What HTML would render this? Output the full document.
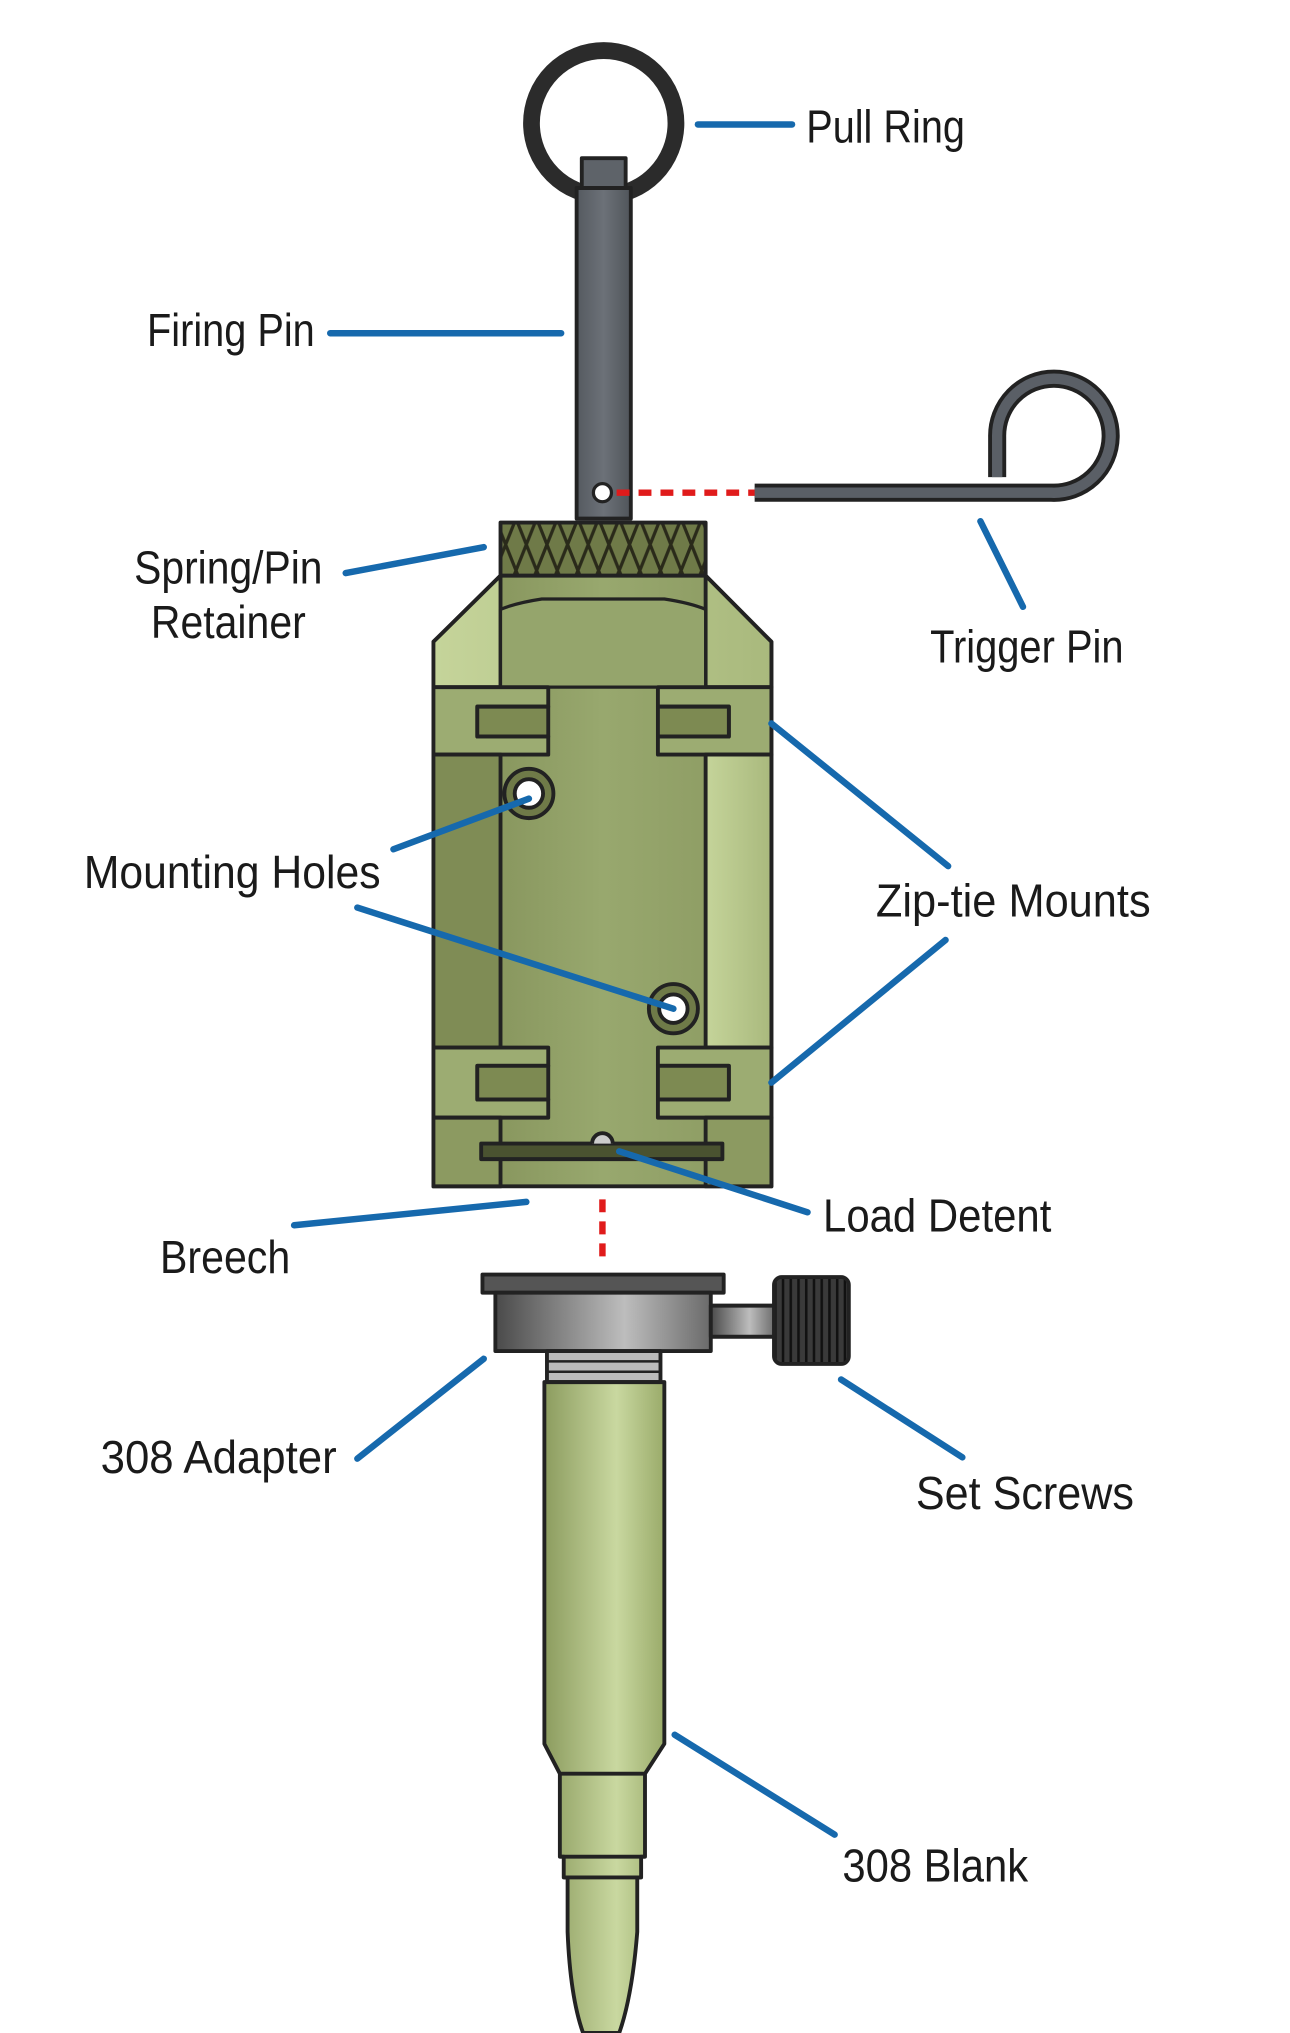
<!DOCTYPE html>
<html><head><meta charset="utf-8"><style>
html,body{margin:0;padding:0;background:#fff;}
svg{display:block;}
text{font-family:"Liberation Sans Narrow","Liberation Sans",sans-serif;font-size:36px;fill:#1a1a1a;}
</style></head><body>
<svg width="1290" height="2033" viewBox="0 0 1000 1568" preserveAspectRatio="none" xmlns="http://www.w3.org/2000/svg">
<defs>
<linearGradient id="grn" x1="0" x2="1"><stop offset="0" stop-color="#7f8c55"/><stop offset="0.5" stop-color="#98a86e"/><stop offset="1" stop-color="#8a9860"/></linearGradient>
<linearGradient id="lg" x1="0" x2="1"><stop offset="0" stop-color="#c5d49a"/><stop offset="1" stop-color="#a9b97d"/></linearGradient>
<linearGradient id="blank" x1="0" x2="1"><stop offset="0" stop-color="#8c9c5f"/><stop offset="0.6" stop-color="#c9d8a0"/><stop offset="1" stop-color="#9aab6a"/></linearGradient>
<linearGradient id="gray" x1="0" x2="1"><stop offset="0" stop-color="#4a4a4a"/><stop offset="0.6" stop-color="#bdbdbd"/><stop offset="1" stop-color="#6a6a6a"/></linearGradient>
<linearGradient id="pin" x1="0" x2="1"><stop offset="0" stop-color="#555a60"/><stop offset="0.5" stop-color="#6c7178"/><stop offset="1" stop-color="#50555a"/></linearGradient>
<pattern id="knurl" width="16" height="40" patternUnits="userSpaceOnUse"><rect width="16" height="40" fill="#6f7a48"/><path d="M0 0L16 40M16 0L0 40" stroke="#2a2a1a" stroke-width="2.5"/></pattern>
<pattern id="knurl2" width="6" height="10" patternUnits="userSpaceOnUse"><rect width="6" height="10" fill="#3a3a3a"/><rect width="2" height="10" fill="#111"/></pattern>
</defs>
<g stroke="#222" stroke-width="3" stroke-linejoin="round">
<circle cx="468" cy="95" r="56" fill="none" stroke="#2b2b2b" stroke-width="13"/>
<rect x="451" y="122" width="34" height="25" fill="#5e6369"/>
<rect x="447" y="145" width="42" height="255" fill="url(#pin)"/>
<circle cx="467" cy="380" r="7" fill="#fff" stroke-width="2.5"/>
<path d="M585 380 L815 380 A44 44 0 1 0 773 337 L773 368" fill="none" stroke="#222" stroke-width="14"/>
<path d="M585 380 L815 380 A44 44 0 1 0 773 337 L773 368" fill="none" stroke="#5a5f66" stroke-width="8" stroke-linejoin="round"/>
<rect x="388" y="403" width="159" height="41" fill="url(#knurl)"/>
<path d="M388 444 L547 444 L598 495 L598 915 L336 915 L336 495 Z" fill="url(#grn)"/>
<path d="M388 444 L336 495 L336 530 L388 530 Z M547 444 L598 495 L598 530 L547 530 Z" fill="url(#lg)"/>
<path d="M388 530 L388 470 Q400 465 420 462 L515 462 Q535 465 547 470 L547 530 Z" fill="#95a56c" stroke-width="2.5"/>
<path d="M336 530 L425 530 L425 545 L370 545 L370 568 L425 568 L425 582 L336 582 Z" fill="#9cac72"/>
<path d="M598 530 L510 530 L510 545 L565 545 L565 568 L510 568 L510 582 L598 582 Z" fill="#9cac72"/>
<path d="M370 545 L425 545 L425 568 L370 568 Z" fill="#7d8a52"/>
<path d="M510 545 L565 545 L565 568 L510 568 Z" fill="#7d8a52"/>
<path d="M336 582 L388 582 L388 808 L336 808 Z" fill="#7f8c55"/>
<path d="M547 582 L598 582 L598 808 L547 808 Z" fill="url(#lg)"/>
<path d="M336 808 L425 808 L425 822 L370 822 L370 848 L425 848 L425 862 L336 862 Z" fill="#9cac72"/>
<path d="M598 808 L510 808 L510 822 L565 822 L565 848 L510 848 L510 862 L598 862 Z" fill="#9cac72"/>
<path d="M370 822 L425 822 L425 848 L370 848 Z" fill="#7d8a52"/>
<path d="M510 822 L565 822 L565 848 L510 848 Z" fill="#7d8a52"/>
<path d="M336 862 L388 862 L388 915 L336 915 Z M547 862 L598 862 L598 915 L547 915Z" fill="#8c9a61"/>
<circle cx="410" cy="612" r="19" fill="#6f7a48"/><circle cx="410" cy="612" r="11" fill="#fff"/>
<circle cx="522" cy="778" r="19" fill="#6f7a48"/><circle cx="522" cy="778" r="11" fill="#fff"/>
<rect x="373" y="882" width="187" height="12" fill="#4a5230"/>
<path d="M459 882 A8 8 0 0 1 475 882" fill="#ccc"/>
<rect x="374" y="983" width="187" height="14" fill="#555"/>
<rect x="384" y="997" width="167" height="45" fill="url(#gray)"/>
<rect x="551" y="1007" width="50" height="24" fill="url(#gray)"/>
<rect x="600" y="985" width="58" height="67" rx="6" fill="url(#knurl2)"/>
<rect x="424" y="1042" width="88" height="24" fill="#bbb"/>
<path d="M424 1050 H512 M424 1058 H512" stroke-width="2"/>
<path d="M422 1066 L515 1066 L515 1345 L500 1368 L500 1432 L497 1432 L497 1448 L494 1448 L494 1490 Q490 1540 480 1568 L452 1568 Q442 1540 440 1490 L440 1448 L437 1448 L437 1432 L434 1432 L434 1368 L422 1345 Z" fill="url(#blank)"/>
<path d="M434 1368 L500 1368 M434 1432 L500 1432 M437 1448 L497 1448" fill="none"/>
</g>
<line x1="478" y1="380" x2="585" y2="380" stroke="#e01b1b" stroke-width="5" stroke-dasharray="10 7"/>
<line x1="467" y1="925" x2="467" y2="975" stroke="#e01b1b" stroke-width="5" stroke-dasharray="10 7"/>
<g stroke="#1669ad" stroke-width="5" stroke-linecap="round" fill="none">
<line x1="541" y1="96" x2="614" y2="96"/>
<line x1="256" y1="257" x2="435" y2="257"/>
<line x1="760" y1="402" x2="793" y2="468"/>
<line x1="268" y1="442" x2="375" y2="422"/>
<line x1="598" y1="558" x2="735" y2="668"/>
<line x1="598" y1="835" x2="733" y2="725"/>
<line x1="305" y1="655" x2="410" y2="616"/>
<line x1="277" y1="700" x2="522" y2="778"/>
<line x1="480" y1="888" x2="626" y2="935"/>
<line x1="228" y1="945" x2="408" y2="927"/>
<line x1="277" y1="1125" x2="375" y2="1048"/>
<line x1="652" y1="1064" x2="746" y2="1124"/>
<line x1="523" y1="1338" x2="647" y2="1415"/>
</g>
<g>
<text x="625" y="110" textLength="123" lengthAdjust="spacingAndGlyphs">Pull Ring</text>
<text x="114" y="267" textLength="130" lengthAdjust="spacingAndGlyphs">Firing Pin</text>
<text x="721" y="511" textLength="150" lengthAdjust="spacingAndGlyphs">Trigger Pin</text>
<text x="104" y="450" textLength="146" lengthAdjust="spacingAndGlyphs">Spring/Pin</text>
<text x="117" y="492" textLength="120" lengthAdjust="spacingAndGlyphs">Retainer</text>
<text x="65" y="685" textLength="230" lengthAdjust="spacingAndGlyphs">Mounting Holes</text>
<text x="679" y="707" textLength="213" lengthAdjust="spacingAndGlyphs">Zip-tie Mounts</text>
<text x="638" y="950" textLength="177" lengthAdjust="spacingAndGlyphs">Load Detent</text>
<text x="124" y="982" textLength="101" lengthAdjust="spacingAndGlyphs">Breech</text>
<text x="78" y="1136" textLength="183" lengthAdjust="spacingAndGlyphs">308 Adapter</text>
<text x="710" y="1164" textLength="169" lengthAdjust="spacingAndGlyphs">Set Screws</text>
<text x="653" y="1451" textLength="144" lengthAdjust="spacingAndGlyphs">308 Blank</text>
</g>
</svg>
</body></html>
